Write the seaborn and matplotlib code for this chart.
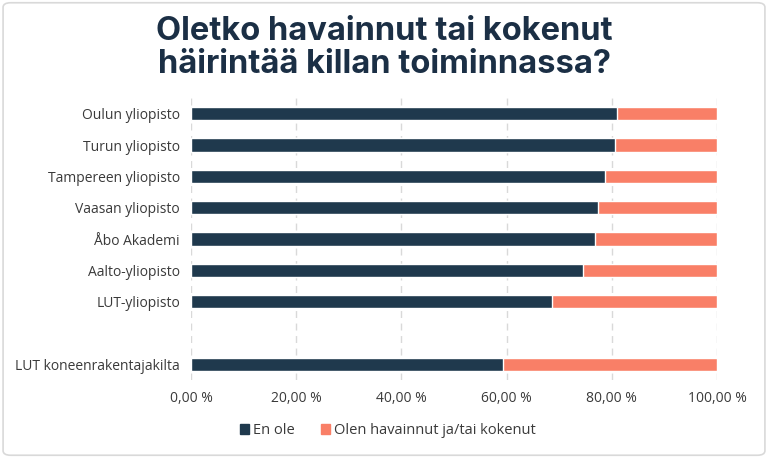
import seaborn as sns
import matplotlib.pyplot as plt
import pandas as pd
from matplotlib.patches import FancyBboxPatch, Patch
from matplotlib.ticker import FuncFormatter

sns.set_theme(style="white")
plt.rcParams['font.family'] = ['Open Sans', 'DejaVu Sans']

# data
categories = ["Oulun yliopisto", "Turun yliopisto", "Tampereen yliopisto",
              "Vaasan yliopisto", "Åbo Akademi", "Aalto-yliopisto",
              "LUT-yliopisto", "LUT koneenrakentajakilta"]
en_ole = [81.0, 80.6, 78.7, 77.4, 76.9, 74.6, 68.6, 59.4]
havainnut = [100 - v for v in en_ole]
order = categories[:7] + [" "] + categories[7:]

dark = "#1f394d"
salmon = "#f97f67"

df = pd.DataFrame({"cat": categories, "en_ole": en_ole,
                   "total": [a + b for a, b in zip(en_ole, havainnut)]})

fig = plt.figure(figsize=(7.68, 4.58), dpi=100)
ax = fig.add_axes([191 / 768, 1 - 380 / 458, 526 / 768, (380 - 98) / 458])

sns.barplot(data=df, y="cat", x="total", order=order, color=salmon,
            width=0.42, ax=ax, saturation=1)
sns.barplot(data=df, y="cat", x="en_ole", order=order, color=dark,
            width=0.42, ax=ax, saturation=1)

ax.set_xlim(0, 100)
ax.set_xticks([0, 20, 40, 60, 80, 100])
ax.xaxis.set_major_formatter(FuncFormatter(lambda v, p: f"{v:.2f} %".replace(".", ",")))
ax.grid(axis="x", color="#d9d9d9", linestyle=(0, (5, 4)), linewidth=1)
ax.set_axisbelow(True)
for s in ax.spines.values():
    s.set_visible(False)
ax.set_xlabel("")
ax.set_ylabel("")
ax.tick_params(axis="both", length=0, labelsize=10, colors="#3a3a3a", pad=8)

fig.text(0.5, 0.896, "Oletko havainnut tai kokenut\nhäirintää killan toiminnassa?",
         ha="center", va="center", fontsize=23.5, fontweight="bold",
         color="#1b2f45", family=["Inter", "DejaVu Sans"], linespacing=1.08)

handles = [Patch(color=dark, label="En ole"),
           Patch(color=salmon, label="Olen havainnut ja/tai kokenut")]
fig.legend(handles=handles, loc="center", bbox_to_anchor=(0.505, 0.06), ncol=2,
           frameon=False, fontsize=10.5, handlelength=0.6, handleheight=0.6,
           handletextpad=0.3, columnspacing=1.8, labelcolor="#3a3a3a")

fig.patches.append(FancyBboxPatch((0.004, 0.006), 0.992, 0.988,
                                  boxstyle="round,pad=0,rounding_size=0.01",
                                  transform=fig.transFigure, fill=False,
                                  edgecolor="#d9d9d9", linewidth=1.2))

fig.savefig("out.png", dpi=100)
